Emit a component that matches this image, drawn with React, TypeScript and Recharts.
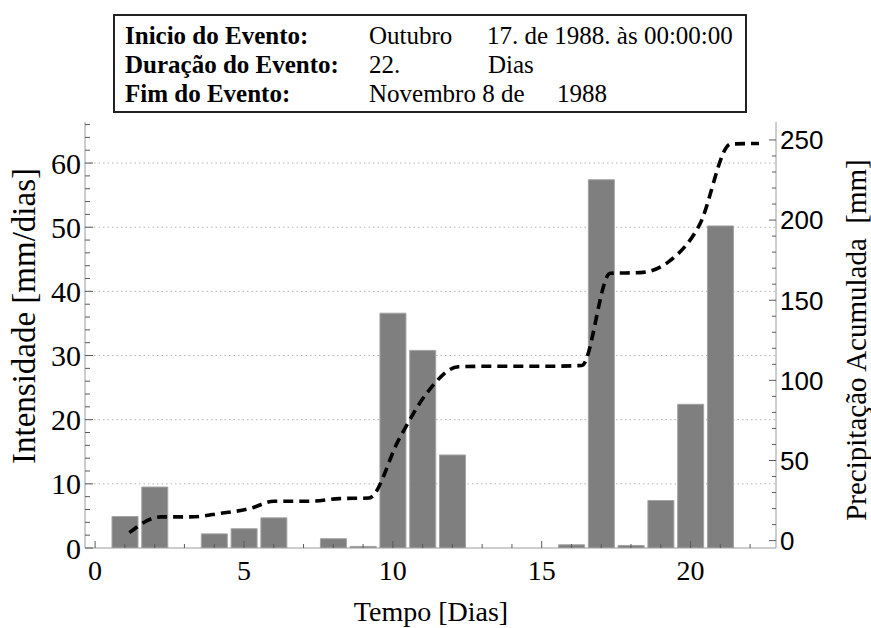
import React from "react";
import {
  ComposedChart,
  Bar,
  Line,
  XAxis,
  YAxis,
  CartesianGrid,
} from "recharts";

// intensidade diária (mm/dia), dias 1..22
const dias = [1, 2, 3, 4, 5, 6, 7, 8, 9, 10, 11, 12, 13, 14, 15, 16, 17, 18, 19, 20, 21, 22];
const intensidade = [4.9, 9.5, 0, 2.2, 3.0, 4.7, 0, 1.45, 0.25, 36.6, 30.8, 14.5, 0, 0, 0, 0.5, 57.4, 0.4, 7.4, 22.4, 50.2, 0];

const diasAcum = [1.15, 2.2, 3.2, 4.2, 5.2, 6.0, 7.2, 8.2, 9.2, 10.2, 11.2, 12.2, 13.2, 14.2, 15.2, 16.35, 17.3, 18.3, 19.3, 20.3, 21.35, 22.3];
const acumulada = [5, 14.8, 14.8, 17, 20, 24.6, 24.6, 26.2, 26.6, 63, 93.5, 108.5, 108.8, 108.8, 108.8, 109.3, 166.8, 167.2, 174.5, 197, 247.5, 247.8];

const xTicks = [0, 1, 2, 3, 4, 5, 6, 7, 8, 9, 10, 11, 12, 13, 14, 15, 16, 17, 18, 19, 20, 21, 22];
const xLabels = [0, 5, 10, 15, 20];
const leftTicks = [0, 2, 4, 6, 8, 10, 12, 14, 16, 18, 20, 22, 24, 26, 28, 30, 32, 34, 36, 38, 40, 42, 44, 46, 48, 50, 52, 54, 56, 58, 60, 62, 64, 66];
const leftLabels = [0, 10, 20, 30, 40, 50, 60];
const gridValues = [10, 20, 30, 40, 50, 60];
const rightTicks = [0, 10, 20, 30, 40, 50, 60, 70, 80, 90, 100, 110, 120, 130, 140, 150, 160, 170, 180, 190, 200, 210, 220, 230, 240, 250];
const rightLabels = [0, 50, 100, 150, 200, 250];

const barData = dias.map((d, i) => ({ day: d, intensidade: intensidade[i] }));
const lineData = diasAcum.map((d, i) => ({ day: d, acum: acumulada[i] }));

const SERIF = "'Liberation Serif', 'Times New Roman', serif";
const SANS = "'Liberation Sans', Arial, sans-serif";
const FRAME = "#9a9a9a";
const TICK = "#5a5a5a";
const X_DOMAIN = [-0.34, 22.87];

function LeftTick(props: any) {
  const { x, y, payload } = props;
  const major = leftLabels.includes(payload.value);
  return (
    <g>
      <line x1={x} x2={x + (major ? 8 : 5)} y1={y} y2={y} stroke={TICK} />
      {major && (
        <text x={x - 4} y={y} dy="0.35em" textAnchor="end" fontFamily={SERIF} fontSize={30} fill="#000">
          {payload.value}
        </text>
      )}
    </g>
  );
}

function RightTick(props: any) {
  const { x, y, payload } = props;
  const major = rightLabels.includes(payload.value);
  return (
    <g>
      <line x1={x} x2={x - (major ? 7 : 4)} y1={y} y2={y} stroke={TICK} />
      {major && (
        <text x={x + 4} y={y} dy="0.36em" textAnchor="start" fontFamily={SANS} fontSize={26} fill="#000">
          {payload.value}
        </text>
      )}
    </g>
  );
}

function BottomTick(props: any) {
  const { x, y, payload } = props;
  const major = xLabels.includes(payload.value);
  return (
    <g>
      <line x1={x} x2={x} y1={y} y2={y - (major ? 7 : 4)} stroke={TICK} />
      {major && (
        <text x={x} y={y + 32} textAnchor="middle" fontFamily={SERIF} fontSize={28} fill="#000">
          {payload.value}
        </text>
      )}
    </g>
  );
}

function Overlay() {
  const hdr = { fontFamily: SERIF, fontSize: 25, fill: "#000" };
  return (
    <svg width={871} height={628} style={{ position: "absolute", left: 0, top: 0, pointerEvents: "none" }}>
      <rect x={114} y={15} width={632} height={97} fill="none" stroke="#222" strokeWidth={2} />
      <text x={125} y={44} {...hdr} fontWeight="bold">Inicio do Evento:</text>
      <text x={369} y={44} {...hdr}>Outubro</text>
      <text x={487} y={44} {...hdr}>17. de 1988. às 00:00:00</text>
      <text x={125} y={73} {...hdr} fontWeight="bold">Duração do Evento:</text>
      <text x={369} y={73} {...hdr}>22.</text>
      <text x={488} y={73} {...hdr}>Dias</text>
      <text x={125} y={102} {...hdr} fontWeight="bold">Fim do Evento:</text>
      <text x={369} y={102} {...hdr}>Novembro 8 de</text>
      <text x={557} y={102} {...hdr}>1988</text>

      <text x={35} y={316} transform="rotate(-90 35 316)" textAnchor="middle" fontFamily={SERIF} fontSize={33} fill="#000">
        Intensidade [mm/dias]
      </text>
      <text x={866} y={340} transform="rotate(-90 866 340)" textAnchor="middle" fontFamily={SERIF} fontSize={29} fill="#000" style={{ whiteSpace: "pre" }}>
        {"Precipitação Acumulada  [mm]"}
      </text>
      <text x={431} y={621} textAnchor="middle" fontFamily={SERIF} fontSize={28} fill="#000">
        Tempo [Dias]
      </text>
    </svg>
  );
}

export default function App() {
  return (
    <div style={{ position: "absolute", left: 0, top: 0, width: 871, height: 628, background: "#fff" }}>
      <ComposedChart
        width={871}
        height={628}
        data={barData}
        margin={{ top: 122, right: 35, bottom: 20, left: 25 }}
      >
        <CartesianGrid
          yAxisId="left"
          vertical={false}
          horizontalValues={gridValues}
          stroke="#b5b5b5"
          strokeDasharray="1.5 3"
        />
        <Bar
          dataKey="intensidade"
          yAxisId="left"
          barSize={26}
          fill="#7f7f7f"
          stroke="#a3a3a3"
          strokeWidth={1}
          isAnimationActive={false}
        />
        <Line
          data={lineData}
          dataKey="acum"
          xAxisId="top"
          yAxisId="right"
          type="monotone"
          stroke="#000"
          strokeWidth={3.6}
          strokeDasharray="10 6"
          dot={false}
          activeDot={false}
          isAnimationActive={false}
        />
        <XAxis
          dataKey="day"
          type="number"
          domain={X_DOMAIN}
          allowDataOverflow
          ticks={xTicks}
          interval={0}
          height={60}
          tickSize={0}
          tickMargin={0}
          tickLine={false}
          tick={<BottomTick />}
          axisLine={{ stroke: FRAME }}
        />
        <XAxis
          xAxisId="top"
          orientation="top"
          dataKey="day"
          type="number"
          domain={X_DOMAIN}
          allowDataOverflow
          height={0}
          tick={false}
          tickLine={false}
          axisLine={{ stroke: FRAME }}
        />
        <YAxis
          yAxisId="left"
          type="number"
          domain={[0, 66.4]}
          allowDataOverflow
          ticks={leftTicks}
          interval={0}
          width={60}
          tickSize={0}
          tickMargin={0}
          tickLine={false}
          tick={<LeftTick />}
          axisLine={{ stroke: FRAME }}
        />
        <YAxis
          yAxisId="right"
          orientation="right"
          type="number"
          domain={[-4.6, 261.2]}
          allowDataOverflow
          ticks={rightTicks}
          interval={0}
          width={60}
          tickSize={0}
          tickMargin={0}
          tickLine={false}
          tick={<RightTick />}
          axisLine={{ stroke: FRAME }}
        />
      </ComposedChart>
      <Overlay />
    </div>
  );
}
